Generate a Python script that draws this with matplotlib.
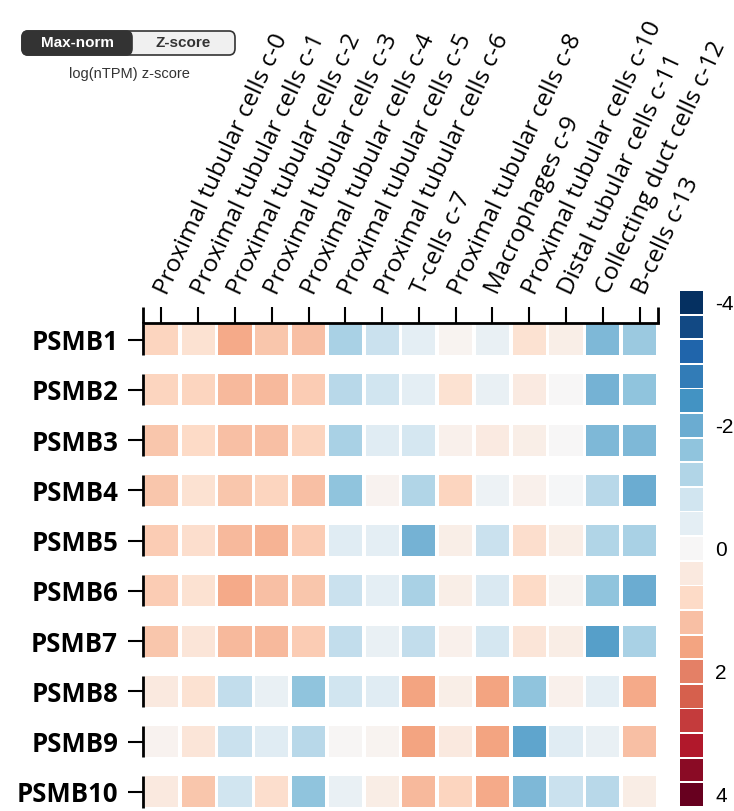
import numpy as np
import matplotlib.pyplot as plt
from matplotlib.colors import Normalize
from matplotlib.patches import FancyBboxPatch

# Data: log(nTPM) z-scores
genes = ["PSMB1", "PSMB2", "PSMB3", "PSMB4", "PSMB5",
         "PSMB6", "PSMB7", "PSMB8", "PSMB9", "PSMB10"]
clusters = ["Proximal tubular cells c-0", "Proximal tubular cells c-1",
            "Proximal tubular cells c-2", "Proximal tubular cells c-3",
            "Proximal tubular cells c-4", "Proximal tubular cells c-5",
            "Proximal tubular cells c-6", "T-cells c-7",
            "Proximal tubular cells c-8", "Macrophages c-9",
            "Proximal tubular cells c-10", "Distal tubular cells c-11",
            "Collecting duct cells c-12", "B-cells c-13"]
zscore = np.array([
    [0.9, 0.6, 1.5, 1.1, 1.2, -1.3, -0.9, -0.4, 0.1, -0.3, 0.6, 0.25, -1.8, -1.5],
    [0.9, 0.9, 1.3, 1.3, 1.0, -1.1, -0.8, -0.4, 0.6, -0.3, 0.35, 0.0, -1.9, -1.6],
    [1.1, 0.8, 1.2, 1.2, 0.9, -1.3, -0.5, -0.7, 0.2, 0.35, 0.25, 0.0, -1.8, -1.8],
    [1.1, 0.6, 1.1, 0.9, 1.2, -1.6, 0.15, -1.2, 0.9, -0.2, 0.2, -0.05, -1.1, -2.0],
    [1.0, 0.7, 1.3, 1.4, 1.0, -0.5, -0.4, -1.9, 0.25, -0.9, 0.7, 0.25, -1.2, -1.3],
    [1.0, 0.6, 1.5, 1.2, 1.1, -0.9, -0.4, -1.3, 0.25, -0.6, 0.8, 0.1, -1.6, -2.0],
    [1.1, 0.5, 1.3, 1.3, 1.0, -1.0, -0.3, -1.0, 0.2, -0.7, 0.5, 0.3, -2.2, -1.3],
    [0.4, 0.6, -1.0, -0.3, -1.6, -0.8, -0.5, 1.6, 0.25, 1.6, -1.6, 0.2, -0.4, 1.5],
    [0.15, 0.5, -0.9, -0.5, -1.1, 0.05, 0.1, 1.6, 0.4, 1.6, -2.1, -0.5, -0.3, 1.2],
    [0.4, 1.1, -0.8, 0.7, -1.6, -0.3, 0.3, 1.3, 0.9, 1.5, -1.8, -0.9, -1.1, 0.3],
])
cbar_levels = np.linspace(-4, 4, 21)
cbar_ticks = [-4, -2, 0, 2, 4]

cmap = plt.get_cmap("RdBu_r")
norm = Normalize(-4, 4)

W, H = 734, 811
fig = plt.figure(figsize=(W / 100, H / 100), dpi=100)

def fx(px):
    return px / W

def fy(py):
    return 1 - py / H

# Heatmap
ax = fig.add_axes([fx(143), fy(807), fx(658) - fx(143), fy(323) - fy(807)])
cols = np.arange(len(clusters))
rows = np.arange(len(genes))
for i in rows:
    ax.bar(cols, 0.62, bottom=i - 0.31, width=0.9,
           color=cmap(norm(zscore[i])), linewidth=0)
ax.set_xlim(-0.5, len(clusters) - 0.5)
ax.set_ylim(9.3, -0.33)

for s in ["left", "right", "bottom"]:
    ax.spines[s].set_visible(False)
ax.spines["top"].set_linewidth(2)

# segmented left axis line and end caps
for i in rows:
    ax.plot([-0.5, -0.5], [i - 0.31, i + 0.31], color="black", lw=2,
            clip_on=False, solid_capstyle="butt")
for xc in [-0.5, len(clusters) - 0.5]:
    ax.plot([xc, xc], [-0.65, -0.33], color="black", lw=2, clip_on=False,
            solid_capstyle="butt")

ax.xaxis.tick_top()
ax.set_xticks(cols)
ax.set_xticklabels(clusters, rotation=65, ha="left", va="center",
                   rotation_mode="anchor", fontsize=17.5, family="Open Sans")
ax.set_yticks(rows)
ax.set_yticklabels(genes, fontsize=18.5, fontweight="bold", family="Open Sans")
ax.tick_params(axis="x", length=11.5, width=1.5, pad=10, bottom=False)
ax.tick_params(axis="y", length=11, width=1.5, pad=7)

# Discrete colour legend
cax = fig.add_axes([fx(680), fy(807), fx(703) - fx(680), fy(290) - fy(807)])
cax.barh(cbar_levels, 1, height=0.37, color=cmap(norm(cbar_levels)), linewidth=0)
cax.set_ylim(4.2, -4.2)
cax.set_xlim(0, 1)
cax.set_xticks([])
cax.set_yticks(cbar_ticks)
cax.set_yticklabels([str(t) for t in cbar_ticks], fontsize=15, family="Liberation Sans")
cax.yaxis.tick_right()
cax.tick_params(axis="y", length=0, pad=9)
for s in cax.spines.values():
    s.set_visible(False)

# Max-norm / Z-score toggle
toggle_bg = FancyBboxPatch((fx(22), fy(55)), fx(235) - fx(22), fy(31) - fy(55),
                           boxstyle="round,pad=0,rounding_size=0.008",
                           transform=fig.transFigure, facecolor="#f0f0f0",
                           edgecolor="#333333", linewidth=1.2)
toggle_on = FancyBboxPatch((fx(22), fy(55)), fx(132) - fx(22), fy(31) - fy(55),
                           boxstyle="round,pad=0,rounding_size=0.008",
                           transform=fig.transFigure, facecolor="#333333",
                           edgecolor="#333333", linewidth=1.2)
fig.add_artist(toggle_bg)
fig.add_artist(toggle_on)
fig.text(fx(77), fy(43), "Max-norm", color="white", fontsize=11, fontweight="bold",
         family="Liberation Sans", ha="center", va="center")
fig.text(fx(183), fy(43), "Z-score", color="#333333", fontsize=11, fontweight="bold",
         family="Liberation Sans", ha="center", va="center")
fig.text(fx(129), fy(74), "log(nTPM) z-score", color="#333333", fontsize=10.5,
         family="Liberation Sans", ha="center", va="center")

fig.savefig("out.png", dpi=100)
